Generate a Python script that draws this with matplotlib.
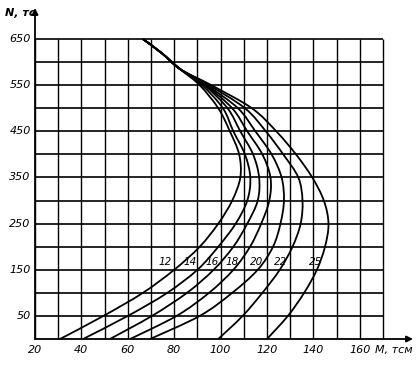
import matplotlib
matplotlib.use("Agg")
import matplotlib.pyplot as plt
from matplotlib.path import Path
from matplotlib.patches import PathPatch
import numpy as np

# ---- data ----
N_levels = [0, 50, 100, 150, 200, 250, 300, 350, 400, 450, 500, 550, 585, 620, 650]
M_12 = [30.8, 49.5, 66.5, 80, 91, 99, 105, 108.5, 108, 104, 99, 91, 82.5, 74.5, 66.5]
M_14 = [40.7, 60, 77, 90, 99, 106.5, 111.5, 112.8, 110.5, 105.5, 101, 92, 82.5, 74.5, 66.5]
M_16 = [52.3, 70.4, 85.5, 97, 105.5, 111.5, 116, 116.6, 114, 108.5, 103, 93, 82.5, 74.5, 66.5]
M_18 = [61, 81, 95, 105.5, 112.7, 117.5, 121, 121.5, 118, 111.5, 105, 93.5, 82.5, 74.5, 66.5]
M_20 = [69.6, 91, 105, 116, 122.6, 125.8, 127.3, 126.3, 122, 115, 107.5, 94, 82.5, 74.5, 66.5]
M_22 = [99, 109.5, 118, 125.5, 131, 134.5, 135.3, 133.5, 127, 119.5, 110.5, 95, 82.5, 74.5, 66.5]
M_25 = [120, 129, 136, 141.5, 145, 146.5, 144.5, 139.5, 132.5, 124, 113.5, 96, 82.5, 74.5, 66.5]
curve_labels = ["12", "14", "16", "18", "20", "22", "25"]
series = [M_12, M_14, M_16, M_18, M_20, M_22, M_25]

x_ticks = [20, 40, 60, 80, 100, 120, 140, 160]
y_ticks = [50, 150, 250, 350, 450, 550, 650]
x_label = "M, тсм"
y_label = "N, тс"

# label anchor positions (layout)
label_pos = [(76, 167), (86.8, 167), (96.3, 166), (104.9, 166), (115.3, 167), (126, 167), (141, 166)]

W, H = 419, 365
fig = plt.figure(figsize=(W / 100, H / 100), dpi=100)
fig.patch.set_facecolor("white")

# axes: x=20 at px 35, 2.32 px/unit; N=0 at px 339, 0.4615 px/unit
px_per_m = 2.32
px_per_n = 0.4615
ax_left_px, ax_right_px = 35, 415
ax_bottom_px, ax_top_px = 339, 8
ax = fig.add_axes([ax_left_px / W, (H - ax_bottom_px) / H,
                   (ax_right_px - ax_left_px) / W, (ax_bottom_px - ax_top_px) / H])
ax.set_xlim(20, 20 + (ax_right_px - ax_left_px) / px_per_m)
ax.set_ylim(0, (ax_bottom_px - ax_top_px) / px_per_n)
ax.axis("off")

# grid
for xv in range(20, 171, 10):
    ax.plot([xv, xv], [0, 650], color="black", lw=1.0, solid_capstyle="butt")
for yv in range(50, 651, 50):
    ax.plot([20, 170], [yv, yv], color="black", lw=1.2, solid_capstyle="butt")

# axes with arrows
ax.annotate("", xy=(20 + (413 - 35) / px_per_m, 0), xytext=(20, 0),
            arrowprops=dict(arrowstyle="-|>", color="black", lw=1.3,
                            mutation_scale=9, shrinkA=0, shrinkB=0),
            annotation_clip=False)
ax.annotate("", xy=(20, (339 - 8) / px_per_n), xytext=(20, 0),
            arrowprops=dict(arrowstyle="-|>", color="black", lw=1.3,
                            mutation_scale=9, shrinkA=0, shrinkB=0),
            annotation_clip=False)


def smooth_path(xs, ys):
    """Catmull-Rom through the read points, drawn as cubic Bezier segments."""
    pts = np.column_stack([xs, ys]).astype(float)
    sc = np.array([px_per_m, px_per_n])
    p = pts * sc
    verts = [p[0]]
    codes = [Path.MOVETO]
    n = len(p)
    for i in range(n - 1):
        p0 = p[i - 1] if i > 0 else p[i]
        p1 = p[i]
        p2 = p[i + 1]
        p3 = p[i + 2] if i + 2 < n else p[i + 1]
        c1 = p1 + (p2 - p0) / 6.0
        c2 = p2 - (p3 - p1) / 6.0
        verts += [c1, c2, p2]
        codes += [Path.CURVE4] * 3
    verts = np.array(verts) / sc
    return Path(verts, codes)


for ms in series:
    patch = PathPatch(smooth_path(ms, N_levels), facecolor="none",
                      edgecolor="black", lw=1.3)
    ax.add_patch(patch)

for lab, (lx, ly) in zip(curve_labels, label_pos):
    ax.text(lx, ly, lab, fontsize=7.5, style="italic", ha="center", va="center",
            color="black")

# tick labels
for xv in x_ticks:
    ax.text(xv, -24, str(xv), fontsize=8, style="italic", ha="center",
            va="center", clip_on=False)
for yv in y_ticks:
    ax.text(18.2, yv, str(yv), fontsize=8,
            style="italic", ha="right", va="center", clip_on=False)

ax.text(20 + (375 - 35) / px_per_m, -24, x_label, fontsize=8, style="italic",
        ha="left", va="center", clip_on=False)
fig.text(20 / W, 1 - 13 / H, y_label, fontsize=8, style="italic",
         ha="center", va="center", fontweight="bold")

fig.savefig("out.png", dpi=100, facecolor="white")
